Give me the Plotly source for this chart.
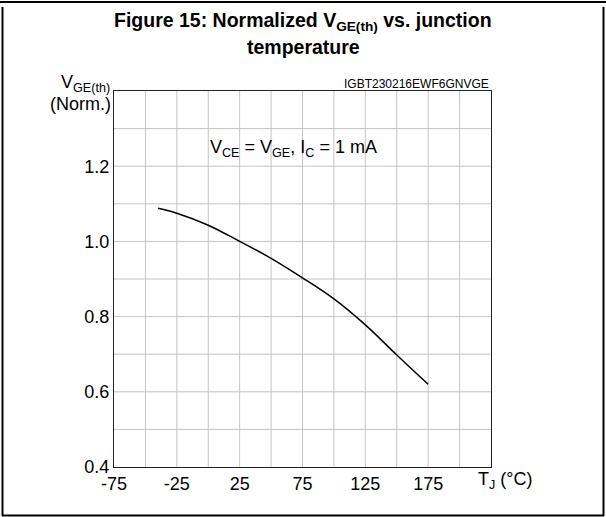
import plotly.graph_objects as go

temps = [-40, -25, 0, 25, 50, 75, 100, 125, 150, 175]
vge_norm = [1.088, 1.075, 1.043, 1.0, 0.955, 0.903, 0.847, 0.778, 0.698, 0.62]
x_ticks = [-75, -25, 25, 75, 125, 175]
y_ticks = [0.4, 0.6, 0.8, 1.0, 1.2]

W, H = 606, 517
L, R, T, B = 114, 491, 91, 467
pw, ph = R - L, B - T

def px(x):
    return (x - L) / pw

def py(y):
    return (B - y) / ph

FONT = "Liberation Sans, Arial, sans-serif"

fig = go.Figure()
fig.add_trace(go.Scatter(x=temps, y=vge_norm, mode="lines",
                         line=dict(color="black", width=1.5, shape="spline"),
                         showlegend=False, hoverinfo="skip"))

fig.update_layout(
    width=W, height=H,
    margin=dict(l=L, r=W - R, t=T, b=H - B),
    paper_bgcolor="white", plot_bgcolor="white",
    font=dict(family=FONT, size=18, color="black"),
    xaxis=dict(range=[-75, 225], tickvals=x_ticks, ticktext=[str(v) for v in x_ticks],
               showgrid=False, zeroline=False, showline=True, linecolor="#222",
               linewidth=1, mirror=True, ticks="", tickfont=dict(size=18), ticklabelstandoff=0),
    yaxis=dict(range=[0.4, 1.4], tickvals=y_ticks, ticktext=["0.4", "0.6", "0.8", "1.0", "1.2"],
               showgrid=False, zeroline=False, showline=True, linecolor="#222",
               linewidth=1, mirror=True, ticks="", tickfont=dict(size=18), ticklabelstandoff=0),
)

shapes = []
for i in range(1, 12):
    xv = -75 + 25 * i
    shapes.append(dict(type="line", xref="x", yref="paper", x0=xv, x1=xv, y0=0, y1=1,
                       line=dict(color="#c4c4c4", width=1), layer="below"))
for i in range(1, 10):
    yv = 0.4 + 0.1 * i
    shapes.append(dict(type="line", xref="paper", yref="y", x0=0, x1=1, y0=yv, y1=yv,
                       line=dict(color="#c4c4c4", width=1), layer="below"))
shapes.append(dict(type="line", xref="paper", yref="paper", x0=px(0), x1=px(606), y0=py(2), y1=py(2),
                   line=dict(color="black", width=2)))
shapes.append(dict(type="line", xref="paper", yref="paper", x0=px(2.5), x1=px(2.5), y0=py(7), y1=py(516),
                   line=dict(color="black", width=2)))
shapes.append(dict(type="line", xref="paper", yref="paper", x0=px(603.5), x1=px(603.5), y0=py(7), y1=py(516),
                   line=dict(color="black", width=2)))
shapes.append(dict(type="line", xref="paper", yref="paper", x0=px(2), x1=px(604), y0=py(515.5), y1=py(515.5),
                   line=dict(color="black", width=2)))
fig.update_layout(shapes=shapes)

ann = []
ann.append(dict(text="<b>Figure 15: Normalized V<sub>GE(th)</sub> vs. junction</b>", x=px(303), y=py(22),
                xref="paper", yref="paper", showarrow=False, font=dict(size=19.5, family=FONT),
                xanchor="center", yanchor="middle"))
ann.append(dict(text="<b>temperature</b>", x=px(303), y=py(47),
                xref="paper", yref="paper", showarrow=False, font=dict(size=19.5, family=FONT),
                xanchor="center", yanchor="middle"))
ann.append(dict(text="V<sub>GE(th)</sub>", x=px(112), y=py(83),
                xref="paper", yref="paper", showarrow=False, font=dict(size=18, family=FONT),
                xanchor="right", yanchor="middle"))
ann.append(dict(text="(Norm.)", x=px(113), y=py(104),
                xref="paper", yref="paper", showarrow=False, font=dict(size=18, family=FONT),
                xanchor="right", yanchor="middle"))
ann.append(dict(text="IGBT230216EWF6GNVGE", x=px(491), y=py(84),
                xref="paper", yref="paper", showarrow=False, font=dict(size=12, family=FONT),
                xanchor="right", yanchor="middle"))
ann.append(dict(text="V<sub>CE</sub> = V<sub>GE</sub>, I<sub>C</sub> = 1 mA", x=px(208), y=py(148),
                xref="paper", yref="paper", showarrow=False, font=dict(size=18, family=FONT),
                xanchor="left", yanchor="middle"))
ann.append(dict(text="T<sub>J</sub> (°C)", x=px(476), y=py(481),
                xref="paper", yref="paper", showarrow=False, font=dict(size=18, family=FONT),
                xanchor="left", yanchor="middle"))
fig.update_layout(annotations=ann)

fig.write_html("out.html", config={"displayModeBar": False},
               post_script="document.body.style.margin='0';")
